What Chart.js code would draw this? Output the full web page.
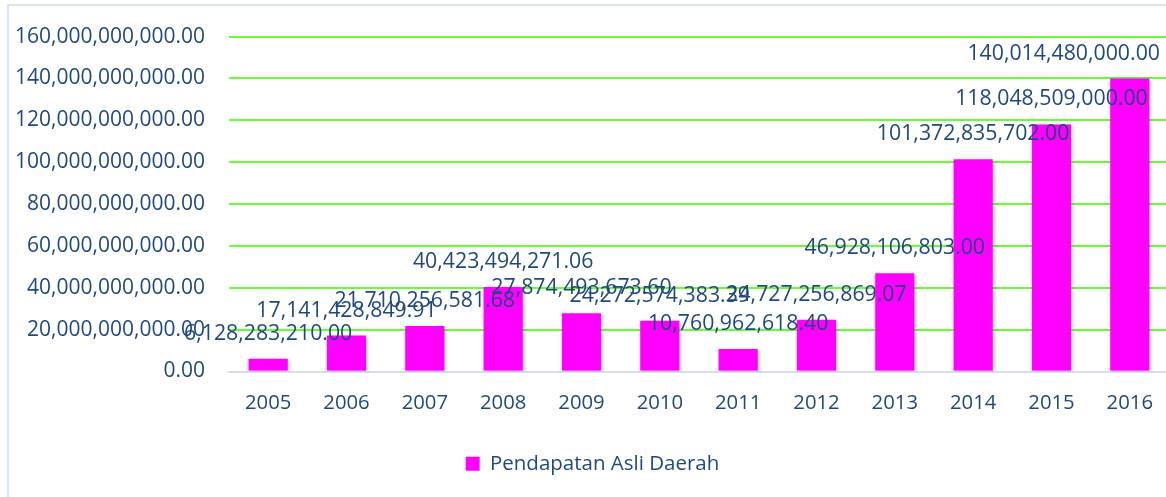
<!DOCTYPE html>
<html>
<head>
<meta charset="utf-8">
<script src="https://cdn.jsdelivr.net/npm/chart.js@4.4.1/dist/chart.umd.min.js"></script>
<style>
  html, body { margin: 0; padding: 0; background: #ffffff; overflow: hidden; width: 1166px; height: 497px; }
  #frame { position: absolute; left: 7px; top: 4px; width: 1300px; height: 600px;
           border-left: 2px solid #DAE3F3; border-top: 2px solid #DAE3F3; }
  #wrap { position: absolute; left: 0; top: 0; width: 1173px; height: 497px; }
</style>
</head>
<body>
<div id="frame"></div>
<div id="wrap"><canvas id="c" width="1173" height="497"></canvas></div>
<script>
const years = ['2005','2006','2007','2008','2009','2010','2011','2012','2013','2014','2015','2016'];
const pendapatan = [6128283210.00, 17141428849.91, 21710256581.68, 40423494271.06, 27874493673.60,
                    24272574383.39, 10760962618.40, 24727256869.07, 46928106803.00, 101372835702.00,
                    118048509000.00, 140014480000.00];
const yTickValues = [0, 20000000000, 40000000000, 60000000000, 80000000000, 100000000000,
                     120000000000, 140000000000, 160000000000];
const seriesName = 'Pendapatan Asli Daerah';

const textColor = '#1F497D';
const fontFamily = "'Open Sans', sans-serif";
const fmt = v => Number(v).toLocaleString('en-US', {minimumFractionDigits: 2, maximumFractionDigits: 2});

const shadowPlugin = {
  id: 'barShadow',
  beforeDatasetDraw(chart) {
    const ctx = chart.ctx;
    ctx.save();
    ctx.shadowColor = 'rgba(0,0,0,0.28)';
    ctx.shadowBlur = 4;
    ctx.shadowOffsetX = 1;
    ctx.shadowOffsetY = 2;
  },
  afterDatasetDraw(chart) { chart.ctx.restore(); }
};

const labelPlugin = {
  id: 'valueLabels',
  afterDatasetsDraw(chart) {
    const ctx = chart.ctx;
    const meta = chart.getDatasetMeta(0);
    ctx.save();
    ctx.font = '21.3px ' + fontFamily;
    ctx.fillStyle = textColor;
    ctx.textAlign = 'center';
    ctx.textBaseline = 'middle';
    meta.data.forEach((bar, i) => {
      const txt = fmt(chart.data.datasets[0].data[i]);
      const w = ctx.measureText(txt).width;
      let x = bar.x;
      const maxRight = 1160;
      if (x + w / 2 > maxRight) x = maxRight - w / 2;
      ctx.fillText(txt, x, bar.y - 25);
    });
    ctx.restore();
  }
};

new Chart(document.getElementById('c'), {
  type: 'bar',
  data: {
    labels: years,
    datasets: [{
      label: seriesName,
      data: pendapatan,
      backgroundColor: '#FF00FF',
      borderWidth: 0,
      barPercentage: 0.5,
      categoryPercentage: 1.0
    }]
  },
  options: {
    responsive: false,
    animation: false,
    layout: { padding: { left: 12, right: 0, top: 35, bottom: 13 } },
    plugins: {
      tooltip: { enabled: false },
      legend: {
        position: 'bottom',
        labels: {
          boxWidth: 14, boxHeight: 14,
          color: textColor,
          font: { family: fontFamily, size: 20.5 }
        }
      }
    },
    scales: {
      x: {
        grid: { display: false, drawTicks: false },
        border: { display: true, color: '#D6DEEC', width: 2 },
        ticks: { color: textColor, font: { family: fontFamily, size: 20.3 }, padding: 20, maxRotation: 0 },
        afterFit(scale) { scale.height = 72; }
      },
      y: {
        min: 0, max: 160000000000,
        afterBuildTicks(scale) { scale.ticks = yTickValues.map(v => ({ value: v })); },
        grid: {
          drawTicks: false,
          color: ctx => (ctx.tick && ctx.tick.value === 0) ? 'rgba(0,0,0,0)' : '#66FF33',
          lineWidth: 2
        },
        border: { display: false },
        ticks: {
          color: textColor,
          font: { family: fontFamily, size: 21 },
          padding: 24,
          callback: v => fmt(v)
        },
        afterFit(scale) { scale.width = 217; }
      }
    }
  },
  plugins: [shadowPlugin, labelPlugin]
});
</script>
</body>
</html>
